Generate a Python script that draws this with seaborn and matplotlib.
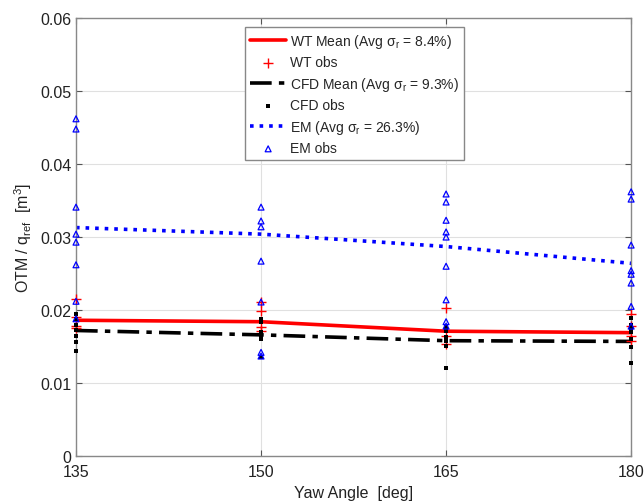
import pandas as pd
import matplotlib
matplotlib.use("Agg")
import matplotlib.pyplot as plt
import seaborn as sns

# yaw angles and mean curves
yaw = [135, 150, 165, 180]
wt_mean = [0.0186, 0.0184, 0.0171, 0.0169]
cfd_mean = [0.0172, 0.0166, 0.0158, 0.0157]
em_mean = [0.0313, 0.0304, 0.0287, 0.0264]

# individual observations per yaw angle
wt_obs = {
    135: [0.0215, 0.0190, 0.0178, 0.0176],
    150: [0.0211, 0.0199, 0.0177, 0.0171],
    165: [0.0203, 0.0165, 0.0153],
    180: [0.0195, 0.0178, 0.0164, 0.0158],
}
cfd_obs = {
    135: [0.0195, 0.0188, 0.0180, 0.0172, 0.0165, 0.0156, 0.0144],
    150: [0.0188, 0.0183, 0.0170, 0.0165, 0.0160, 0.0136],
    165: [0.0177, 0.0171, 0.0163, 0.0158, 0.0151, 0.0120],
    180: [0.0189, 0.0179, 0.0175, 0.0170, 0.0160, 0.0150, 0.0128],
}
em_obs = {
    135: [0.0462, 0.0448, 0.0341, 0.0304, 0.0293, 0.0262, 0.0212, 0.0188],
    150: [0.0415, 0.0341, 0.0322, 0.0314, 0.0267, 0.0211, 0.0142, 0.0137],
    165: [0.0359, 0.0348, 0.0323, 0.0307, 0.0300, 0.0260, 0.0214, 0.0184, 0.0178],
    180: [0.0362, 0.0352, 0.0289, 0.0254, 0.0249, 0.0237, 0.0205, 0.0178],
}


def to_frame(d):
    rows = [(k, v) for k, vals in d.items() for v in vals]
    return pd.DataFrame(rows, columns=["yaw", "otm"])


means = pd.DataFrame({"yaw": yaw, "wt": wt_mean, "cfd": cfd_mean, "em": em_mean})
wt_df = to_frame(wt_obs)
cfd_df = to_frame(cfd_obs)
em_df = to_frame(em_obs)

sns.set_style("whitegrid")
plt.rcParams["font.family"] = ["Liberation Sans", "DejaVu Sans"]
plt.rcParams["mathtext.default"] = "regular"

fig = plt.figure(figsize=(6.44, 5.02), dpi=100)
ax = fig.add_axes([0.118, 0.0896, 0.862, 0.8724])

sns.lineplot(data=means, x="yaw", y="wt", color="red", lw=2.6, ax=ax,
             label=r"WT Mean (Avg $\sigma_r$ = 8.4%)")
sns.scatterplot(data=wt_df, x="yaw", y="otm", marker="+", color="red", s=60,
                linewidth=1.0, ax=ax, label="WT obs", zorder=3, clip_on=False)
sns.lineplot(data=means, x="yaw", y="cfd", color="black", lw=2.6, ax=ax,
             label=r"CFD Mean (Avg $\sigma_r$ = 9.3%)")
ax.lines[-1].set_dashes([6, 2, 1.5, 2])
sns.scatterplot(data=cfd_df, x="yaw", y="otm", marker="s", color="black", s=12,
                linewidth=0, ax=ax, label="CFD obs", zorder=3, clip_on=False)
sns.lineplot(data=means, x="yaw", y="em", color="blue", lw=2.6, ax=ax,
             label=r"EM (Avg $\sigma_r$ = 26.3%)")
ax.lines[-1].set_linestyle(":")
sns.scatterplot(data=em_df, x="yaw", y="otm", marker="^", facecolor="none",
                edgecolor="blue", s=18, linewidth=0.9, ax=ax, label="EM obs",
                zorder=3, clip_on=False)

ax.set_xlim(135, 180)
ax.set_ylim(0, 0.06)
ax.set_xticks([135, 150, 165, 180])
ax.set_yticks([0, 0.01, 0.02, 0.03, 0.04, 0.05, 0.06])
ax.set_yticklabels(["0", "0.01", "0.02", "0.03", "0.04", "0.05", "0.06"])
ax.grid(True, color="#e0e0e0", lw=0.8)
for sp in ax.spines.values():
    sp.set_visible(True)
    sp.set_color("#888888")
    sp.set_linewidth(1.0)
ax.tick_params(direction="in", length=4, color="#555555", labelsize=11.5,
               labelcolor="#222222", top=True, right=True, left=True, bottom=True)
ax.tick_params(axis="x", pad=6)
ax.set_xlabel("Yaw Angle  [deg]", fontsize=11.5, color="#222222", labelpad=4)
ax.set_ylabel(r"OTM / q$_{ref}$  [m$^3$]", fontsize=11.5, color="#222222")

leg = ax.legend(loc="upper center", bbox_to_anchor=(0.502, 0.98), fontsize=10,
                frameon=True, fancybox=False, edgecolor="#888888", framealpha=1,
                handlelength=2.6, handletextpad=0.3, borderpad=0.35,
                labelspacing=0.4, borderaxespad=0)
leg.get_frame().set_linewidth(1.0)

plt.savefig("out.png", dpi=100)
